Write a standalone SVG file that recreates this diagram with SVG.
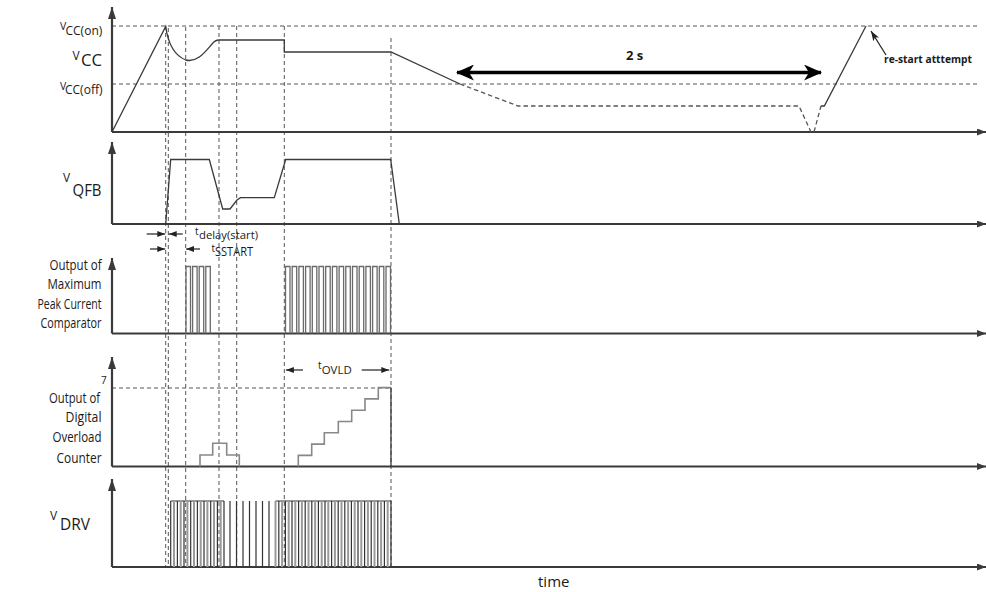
<svg xmlns="http://www.w3.org/2000/svg" width="986" height="592" viewBox="0 0 986 592">
<style>
text{font-family:"Open Sans","Liberation Sans",sans-serif;fill:#1a1a1a}
.lbl{font-size:15px;text-anchor:end}
.ax{stroke:#3a3a3a;stroke-width:2.2;fill:none}
.dash{stroke:#555;stroke-width:1;stroke-dasharray:4 3;fill:none}
.wave{stroke:#3a3a3a;stroke-width:1.3;fill:none}
.dwave{stroke:#555;stroke-width:1.3;stroke-dasharray:4.5 3;fill:none}
.step{stroke:#888;stroke-width:1.6;fill:none}
.pulse{stroke:#6a6a6a;stroke-width:1.3;fill:none}
.pd{stroke:#333;stroke-width:1.2;fill:none}
.pg{stroke:#9a9a9a;stroke-width:2;fill:none}
.dim{stroke:#222;stroke-width:1.2;fill:none}
</style>
<defs>
<marker id="up" markerUnits="userSpaceOnUse" markerWidth="12" markerHeight="8" refX="12" refY="4" orient="auto"><path d="M0,0 L12,4 L0,8 z" fill="#3a3a3a"/></marker>
<marker id="rt" markerUnits="userSpaceOnUse" markerWidth="9" markerHeight="7" refX="9" refY="3.5" orient="auto"><path d="M0,0 L9,3.5 L0,7 z" fill="#3a3a3a"/></marker>
<marker id="sm" markerUnits="userSpaceOnUse" markerWidth="8" markerHeight="6" refX="8" refY="3" orient="auto"><path d="M0,0 L8,3 L0,6 z" fill="#222"/></marker>
<marker id="big" markerUnits="userSpaceOnUse" markerWidth="18" markerHeight="16" refX="17" refY="8" orient="auto-start-reverse"><path d="M0,0 L18,8 L0,16 L5,8 z" fill="#000"/></marker>
<marker id="re" markerUnits="userSpaceOnUse" markerWidth="10" markerHeight="7" refX="10" refY="3.5" orient="auto"><path d="M0,0 L10,3.5 L0,7 L2.5,3.5 z" fill="#222"/></marker>
</defs>

<g id="guides">
<path class="dash" d="M112,26 H980 M112,84 H980 M112,388 H391"/>
<path class="dash" d="M165.7,26 V567 M168.3,28 V567 M185.7,27 V567 M219,26 V567 M236.7,26 V567 M284.3,26 V567 M391,38 V567"/>
</g>

<g id="axes">
<path class="ax" d="M112,132 V7" marker-end="url(#up)"/>
<path class="ax" d="M112,224 V142" marker-end="url(#up)"/>
<path class="ax" d="M112,333.5 V258" marker-end="url(#up)"/>
<path class="ax" d="M112,466.5 V357" marker-end="url(#up)"/>
<path class="ax" d="M112,567 V479" marker-end="url(#up)"/>
<path class="ax" d="M112,132 H986" marker-end="url(#rt)"/>
<path class="ax" d="M112,224 H986" marker-end="url(#rt)"/>
<path class="ax" d="M112,333.5 H986" marker-end="url(#rt)"/>
<path class="ax" d="M112,466.5 H986" marker-end="url(#rt)"/>
<path class="ax" d="M112,567 H986" marker-end="url(#rt)"/>
</g>

<g id="vcc">
<path class="wave" d="M112,132 L165.7,26.5 C167,36 171,54 185.7,60 C197,63 205,52 212,44 C214,41.5 216,40 219,40 L284.3,40 L284.3,52 L391,52 L460,84"/>
<path class="dwave" d="M460,84 L518,106 L799,106 L811,132 L814,132 L821,106"/>
<path class="wave" d="M821,106 L824.3,106 L866,26"/>
<text x="60" y="29.5" font-size="10.5">V</text><text x="65.5" y="34.5" font-size="12">CC(on)</text>
<text x="72.5" y="60" font-size="12">V</text><text x="81" y="66" font-size="17" textLength="21" lengthAdjust="spacingAndGlyphs">CC</text>
<text x="60" y="90" font-size="10.5">V</text><text x="65" y="93.5" font-size="12">CC(off)</text>
</g>

<g id="twosec">
<line x1="457" y1="72.5" x2="821" y2="72.5" stroke="#000" stroke-width="3.5" marker-start="url(#big)" marker-end="url(#big)"/>
<text x="626" y="60" font-size="13" font-weight="bold">2 s</text>
</g>

<g id="restart">
<line x1="886" y1="55" x2="871" y2="31" class="dim" marker-end="url(#re)"/>
<text x="884" y="63" font-size="10" font-weight="bold" textLength="88" lengthAdjust="spacingAndGlyphs">re-start atttempt</text>
</g>

<g id="vqfb">
<path class="wave" d="M165.7,224 L170.7,159.5 L209.3,159.5 L222.7,209 L230,209 L237,200 L240.5,197.7 L274.3,197.7 L285.7,159.5 L390.7,159.5 L399.3,224"/>
<text x="63" y="182" font-size="12">V</text><text x="72.5" y="196" font-size="16.5" textLength="29" lengthAdjust="spacingAndGlyphs">QFB</text>
</g>

<g id="tdelay">
<line class="dim" x1="146.7" y1="234" x2="165.3" y2="234" marker-end="url(#sm)"/>
<line class="dim" x1="182.7" y1="234" x2="168.7" y2="234" marker-end="url(#sm)"/>
<text x="195" y="234.5" font-size="10">t</text><text x="199" y="238.5" font-size="10.5" textLength="59" lengthAdjust="spacingAndGlyphs">delay(start)</text>
<line class="dim" x1="150" y1="249" x2="165.3" y2="249" marker-end="url(#sm)"/>
<line class="dim" x1="200" y1="249" x2="186.1" y2="249" marker-end="url(#sm)"/>
<text x="211.5" y="251.5" font-size="10">t</text><text x="215" y="255.5" font-size="12" textLength="38" lengthAdjust="spacingAndGlyphs">SSTART</text>
</g>

<g id="comparator">
<path class="pulse" d="M186,333.5 V266.5 H190.5 V333.5 M192.6,333.5 V266.5 H197.1 V333.5 M199.2,333.5 V266.5 H203.7 V333.5 M205.8,333.5 V266.5 H210.3 V333.5"/>
<path class="pulse" d="M285.5,333.5 V266.5 H290 V333.5 M292.2,333.5 V266.5 H296.7 V333.5 M298.9,333.5 V266.5 H303.4 V333.5 M305.6,333.5 V266.5 H310.1 V333.5 M312.3,333.5 V266.5 H316.8 V333.5 M319,333.5 V266.5 H323.5 V333.5 M325.7,333.5 V266.5 H330.2 V333.5 M332.4,333.5 V266.5 H336.9 V333.5 M339.1,333.5 V266.5 H343.6 V333.5 M345.8,333.5 V266.5 H350.3 V333.5 M352.5,333.5 V266.5 H357 V333.5 M359.2,333.5 V266.5 H363.7 V333.5 M365.9,333.5 V266.5 H370.4 V333.5 M372.6,333.5 V266.5 H377.1 V333.5 M379.3,333.5 V266.5 H383.8 V333.5 M386,333.5 V266.5 H390.5 V333.5"/>
<text class="lbl" x="101.5" y="269.5" textLength="52" lengthAdjust="spacingAndGlyphs">Output of</text>
<text class="lbl" x="101.5" y="289" textLength="54" lengthAdjust="spacingAndGlyphs">Maximum</text>
<text class="lbl" x="101.5" y="308.5" textLength="64" lengthAdjust="spacingAndGlyphs">Peak Current</text>
<text class="lbl" x="101.5" y="328" textLength="61" lengthAdjust="spacingAndGlyphs">Comparator</text>
</g>

<g id="counter">
<path class="step" d="M200,466.5 V455 H212.7 V443.2 H226.7 V455 H239.3 V466.5"/>
<path class="step" d="M298.3,466.5 V455.4 H311.7 V444.1 H324.3 V432.8 H338.3 V421.5 H351.7 V410.2 H365 V398.9 H378.3 V387.6 H391"/>
<path class="wave" d="M391,387.6 V466.5" stroke-width="1.6"/>
<line class="dim" x1="303" y1="370" x2="285.9" y2="370" marker-end="url(#sm)"/>
<line class="dim" x1="361.7" y1="370" x2="389.3" y2="370" marker-end="url(#sm)"/>
<text x="318" y="369" font-size="10">t</text><text x="321.7" y="374" font-size="11.5" textLength="30" lengthAdjust="spacingAndGlyphs">OVLD</text>
<text x="101" y="384" font-size="10">7</text>
<text class="lbl" x="100" y="402.5" textLength="51" lengthAdjust="spacingAndGlyphs">Output of</text>
<text class="lbl" x="101.5" y="422" textLength="36" lengthAdjust="spacingAndGlyphs">Digital</text>
<text class="lbl" x="101.5" y="442" textLength="49" lengthAdjust="spacingAndGlyphs">Overload</text>
<text class="lbl" x="101.5" y="462.5" textLength="45" lengthAdjust="spacingAndGlyphs">Counter</text>
</g>

<g id="vdrv">
<path class="pd" d="M170.7,501 H224 M275.5,501 H391"/>
<path class="pg" d="M174,567 V501 M180.7,567 V501 M187.4,567 V501 M194,567 V501 M200.7,567 V501 M207.4,567 V501 M214,567 V501 M220.7,567 V501 M275.5,567 V501 M282.1,567 V501 M288.7,567 V501 M295.3,567 V501 M301.9,567 V501 M308.5,567 V501 M315.1,567 V501 M321.7,567 V501 M328.3,567 V501 M334.9,567 V501 M341.5,567 V501 M348.1,567 V501 M354.7,567 V501 M361.3,567 V501 M367.9,567 V501 M374.5,567 V501 M381.1,567 V501 M387.7,567 V501"/>
<path class="pd" d="M170.7,567 V501 M177.4,567 V501 M184,567 V501 M190.7,567 V501 M197.4,567 V501 M204,567 V501 M210.7,567 V501 M217.4,567 V501 M224,567 V501 M230,567 V501 M236.5,567 V501 M243,567 V501 M249.5,567 V501 M256,567 V501 M262.5,567 V501 M269,567 V501 M278.8,567 V501 M285.4,567 V501 M292,567 V501 M298.6,567 V501 M305.2,567 V501 M311.8,567 V501 M318.4,567 V501 M325,567 V501 M331.6,567 V501 M338.2,567 V501 M344.8,567 V501 M351.4,567 V501 M358,567 V501 M364.6,567 V501 M371.2,567 V501 M377.8,567 V501 M384.4,567 V501"/>
<path class="wave" d="M391,567 V501" stroke-width="2"/>
<text x="50" y="520" font-size="12">V</text><text x="60" y="530" font-size="16.5" textLength="30" lengthAdjust="spacingAndGlyphs">DRV</text>
</g>

<text x="538" y="587" font-size="15">time</text>
</svg>
